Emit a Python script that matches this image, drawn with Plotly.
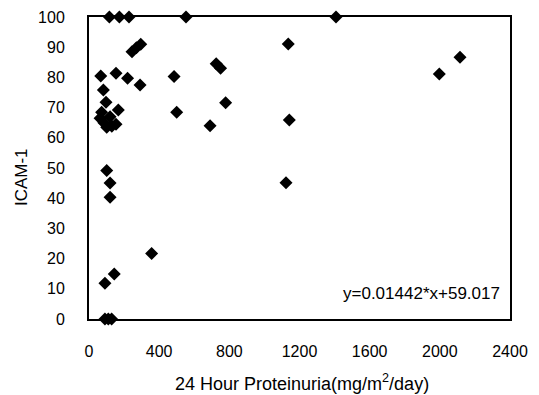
import plotly.graph_objects as go

proteinuria = [116, 173, 228, 553, 1408,
               245, 270, 295,
               67, 154, 220, 291, 82, 97,
               72, 167, 120, 63, 101, 154, 85, 130,
               485, 500, 690, 725, 750, 779,
               101, 120, 120, 357, 91, 144, 91, 110, 129,
               1136, 1142, 1123, 1997, 2115]
icam1 = [100, 100, 100, 100, 100,
         88.5, 89.8, 91,
         80.5, 81.4, 79.7, 77.5, 75.8, 71.8,
         68.5, 69.2, 67, 66.5, 63.5, 64.5, 65, 63.8,
         80.3, 68.5, 64, 84.5, 83, 71.6,
         49.2, 45, 40.3, 21.7, 11.8, 14.9, 0, 0, 0,
         91.1, 65.9, 45.1, 81.1, 86.7]

x_ticks = [0, 400, 800, 1200, 1600, 2000, 2400]
y_ticks = [0, 10, 20, 30, 40, 50, 60, 70, 80, 90, 100]
equation = "y=0.01442*x+59.017"
x_title = "24 Hour Proteinuria(mg/m<sup>2</sup>/day)"
y_title = "ICAM-1"

family = "Liberation Sans, Arial, sans-serif"
tick_font = dict(family=family, size=16, color="black")
title_font = dict(family=family, size=17, color="black")
xtitle_font = dict(family=family, size=18, color="black")

fig = go.Figure(go.Scatter(
    x=proteinuria, y=icam1, mode="markers",
    marker=dict(symbol="diamond", size=10, color="black", line=dict(width=0)),
    cliponaxis=False, showlegend=False))

fig.update_layout(
    width=531, height=387,
    margin=dict(l=81, r=29, t=9, b=76, autoexpand=False),
    paper_bgcolor="white", plot_bgcolor="white",
    font=tick_font,
    xaxis=dict(range=[0, 2400], tickvals=x_ticks, showgrid=False, zeroline=False,
               showline=True, linecolor="black", linewidth=2, mirror=True,
               ticks="", automargin=False, ticklabelstandoff=17,
               ticklabeloverflow="allow", tickfont=tick_font),
    yaxis=dict(range=[0, 100], tickvals=y_ticks, showgrid=False, zeroline=False,
               showline=True, linecolor="black", linewidth=2, mirror=True,
               ticks="", automargin=False, ticklabelstandoff=19,
               ticklabeloverflow="allow", tickfont=tick_font),
    annotations=[
        dict(text=equation, x=0.981, y=0.086, xref="paper", yref="paper",
             xanchor="right", yanchor="middle", showarrow=False, font=title_font),
        dict(text=x_title, x=0.506, y=-0.21, xref="paper", yref="paper",
             xanchor="center", yanchor="middle", showarrow=False, font=xtitle_font),
        dict(text=y_title, x=-0.1615, y=0.47, xref="paper", yref="paper",
             xanchor="center", yanchor="middle", showarrow=False, font=title_font,
             textangle=-90),
    ],
)

fig.write_html("out.html")
